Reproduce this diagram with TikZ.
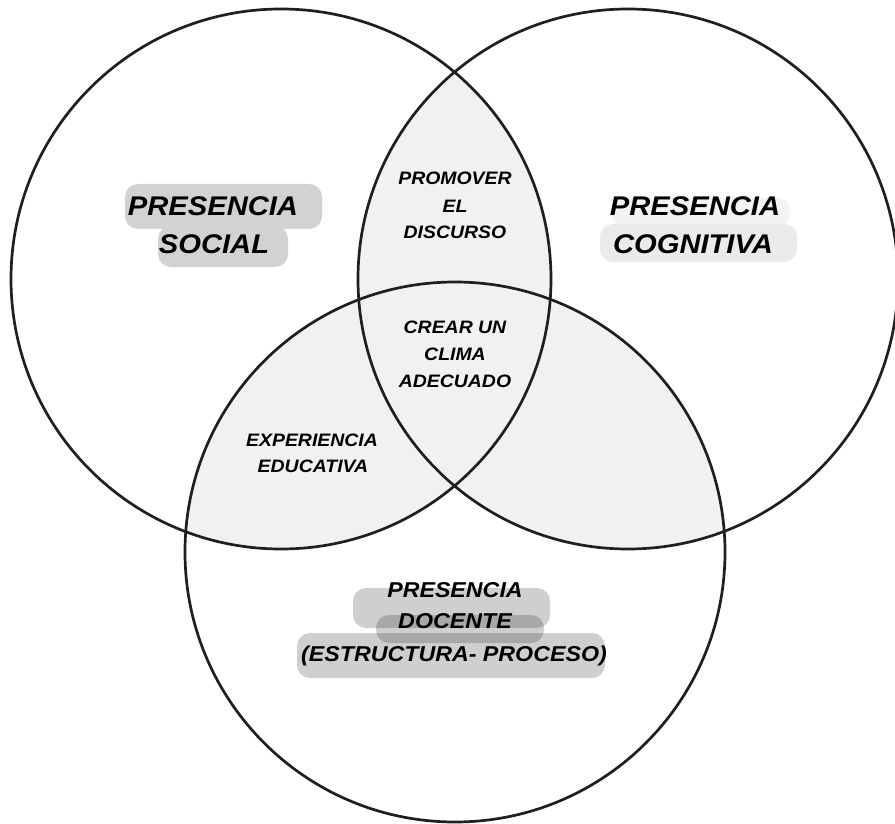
\documentclass[tikz,border=0pt]{standalone}
\usepackage{fontspec}
\setmainfont{Liberation Sans}
\newfontfamily\labfont[FakeStretch=1.08]{Liberation Sans}
\definecolor{lensgray}{RGB}{241,241,241}
\definecolor{hlsocial}{RGB}{210,210,210}
\definecolor{hlcog}{RGB}{234,234,234}
\definecolor{hlcogtop}{RGB}{243,243,243}
\tikzset{
  ring/.style={draw=black!88, line width=2.7pt},
  blob/.style={rounded corners=13pt},
  docblob/.style={fill=black, fill opacity=0.19, rounded corners=13pt},
  big/.style={anchor=base, inner sep=0pt, font=\labfont\fontsize{27}{30}\selectfont\bfseries\itshape},
  mid/.style={anchor=base, inner sep=0pt, font=\labfont\fontsize{21.5}{26}\selectfont\bfseries\itshape},
  small/.style={anchor=base, inner sep=0pt, font=\labfont\fontsize{18}{20}\selectfont\bfseries\itshape},
}
\begin{document}
\begin{tikzpicture}[x=1pt,y=-1pt]
\useasboundingbox (0,0) rectangle (895,824);
\clip (0,0) rectangle (895,824);
\fill[white] (0,0) rectangle (895,824);
\coordinate (cS) at (281,279);
\coordinate (cC) at (628,279);
\coordinate (cD) at (455,552);
% shaded pairwise intersections
\begin{scope}
  \clip (cS) circle[radius=270pt];
  \fill[lensgray] (cC) circle[radius=270pt];
  \fill[lensgray] (cD) circle[radius=270pt];
\end{scope}
\begin{scope}
  \clip (cC) circle[radius=270pt];
  \fill[lensgray] (cD) circle[radius=270pt];
\end{scope}
% highlighter blobs
\fill[hlsocial, blob] (125,184) rectangle (322,229);
\fill[hlsocial, blob] (158,226) rectangle (288,267);
\fill[hlcogtop, blob] (612,198) rectangle (790,226);
\fill[hlcog, blob] (600,224) rectangle (797,262);
\fill[docblob] (353,588) rectangle (550,628);
\fill[docblob] (376,615) rectangle (544,643);
\fill[docblob] (297,633) rectangle (605,678);
% circles
\draw[ring] (cS) circle[radius=270pt];
\draw[ring] (cC) circle[radius=270pt];
\draw[ring] (cD) circle[radius=270pt];
% labels
\node[big] (s1) at (213,215) {PRESENCIA};
\node[big] (s2) at (214,254) {SOCIAL};
\node[big] (c1) at (695,215) {PRESENCIA};
\node[big] (c2) at (693,253) {COGNITIVA};
\node[small] (p1) at (455,185) {PROMOVER};
\node[small] (p2) at (455,213) {EL};
\node[small] (p3) at (455,239) {DISCURSO};
\node[small] (k1) at (455,333) {CREAR UN};
\node[small] (k2) at (455,360) {CLIMA};
\node[small] (k3) at (455,387) {ADECUADO};
\node[small] (e1) at (312,446) {EXPERIENCIA};
\node[small] (e2) at (313,472) {EDUCATIVA};
\node[mid] (d1) at (455,597) {PRESENCIA};
\node[mid] (d2) at (455,628) {DOCENTE};
\node[mid] (d3) at (454,661) {(ESTRUCTURA- PROCESO)};
\end{tikzpicture}
\end{document}
